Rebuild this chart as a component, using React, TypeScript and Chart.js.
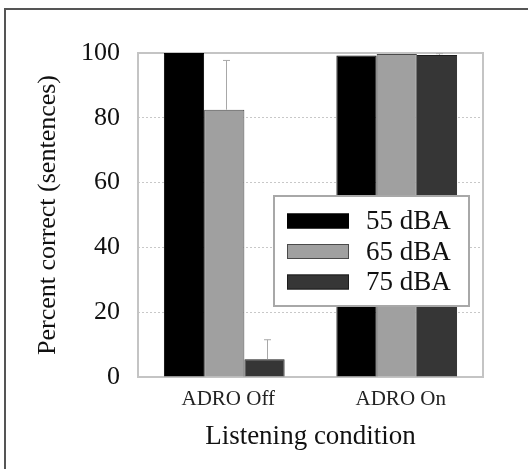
import React, { useEffect, useRef } from 'react';
import { Chart, registerables } from 'chart.js';

Chart.register(...registerables);

const categories = ['ADRO Off', 'ADRO On'];
const seriesLabels = ['55 dBA', '65 dBA', '75 dBA'];
const values55 = [100, 99.2];
const values65 = [82.5, 99.7];
const values75 = [5.5, 99.4];
const errors55 = [0, 0];
const errors65 = [15.2, 0];
const errors75 = [6.0, 0.4];
const yMin = 0;
const yMax = 100;
const yStep = 20;
const xTitle = 'Listening condition';
const yTitle = 'Percent correct (sentences)';

const fillColors = ['#000000', '#a0a0a0', '#363636'];
const edgeColors = ['#000000', '#4a4a4a', '#1c1c1c'];
const FONT = "'Liberation Serif', 'Times New Roman', serif";

const errorBarPlugin = {
  id: 'errorBars',
  afterDatasetsDraw(chart: any) {
    const ctx = chart.ctx;
    const yScale = chart.scales.y;
    const errs = [errors55, errors65, errors75];
    ctx.save();
    ctx.strokeStyle = '#a8a8a8';
    ctx.lineWidth = 1;
    chart.data.datasets.forEach((ds: any, i: number) => {
      const meta = chart.getDatasetMeta(i);
      meta.data.forEach((el: any, j: number) => {
        const e = errs[i][j];
        if (!e) return;
        const v = ds.data[j];
        const yTop = yScale.getPixelForValue(v + e);
        const x = Math.round(el.x) + 2.5;
        ctx.beginPath();
        ctx.moveTo(x, el.y);
        ctx.lineTo(x, yTop);
        ctx.moveTo(x - 3.5, yTop);
        ctx.lineTo(x + 3.5, yTop);
        ctx.stroke();
      });
    });
    ctx.restore();
  },
};

const frameBoxPlugin = {
  id: 'frameBox',
  beforeDatasetsDraw(chart: any) {
    const { ctx, chartArea } = chart;
    ctx.save();
    ctx.strokeStyle = '#c4c4c4';
    ctx.lineWidth = 2;
    ctx.strokeRect(chartArea.left, chartArea.top, chartArea.right - chartArea.left, chartArea.bottom - chartArea.top);
    ctx.restore();
  },
};

const boxLegendPlugin = {
  id: 'boxLegend',
  afterDraw(chart: any) {
    const { ctx, chartArea } = chart;
    const bx = chartArea.right - 209;
    const by = chartArea.top + 143;
    const bw = 195;
    const bh = 110;
    ctx.save();
    ctx.fillStyle = '#ffffff';
    ctx.fillRect(bx, by, bw, bh);
    ctx.strokeStyle = '#a8a8a8';
    ctx.lineWidth = 2;
    ctx.strokeRect(bx, by, bw, bh);
    chart.data.datasets.forEach((ds: any, i: number) => {
      const cy = by + 25 + i * 30.5;
      ctx.fillStyle = ds.backgroundColor;
      ctx.fillRect(bx + 13, cy - 7.5, 62, 15);
      ctx.strokeStyle = ds.borderColor;
      ctx.lineWidth = 1;
      ctx.strokeRect(bx + 13.5, cy - 7, 61, 14);
      ctx.fillStyle = '#111111';
      ctx.font = `27px ${FONT}`;
      ctx.textBaseline = 'middle';
      ctx.textAlign = 'left';
      ctx.fillText(ds.label, bx + 92, cy + 1);
    });
    ctx.restore();
  },
};

export default function App() {
  const canvasRef = useRef<HTMLCanvasElement | null>(null);

  useEffect(() => {
    const canvas = canvasRef.current;
    if (!canvas) return;
    const seriesValues = [values55, values65, values75];
    const chart = new Chart(canvas, {
      type: 'bar',
      data: {
        labels: categories,
        datasets: seriesLabels.map((label, i) => ({
          label,
          data: seriesValues[i],
          backgroundColor: fillColors[i],
          borderColor: edgeColors[i],
          borderWidth: 1,
          categoryPercentage: 0.7,
          barPercentage: 1.0,
        })),
      },
      options: {
        responsive: false,
        animation: false,
        devicePixelRatio: 1,
        layout: { padding: { left: 0, top: 53, right: 45, bottom: 0 } },
        plugins: {
          legend: { display: false },
          tooltip: { enabled: false },
        },
        scales: {
          x: {
            grid: { display: false, drawTicks: false },
            border: { display: false },
            ticks: {
              color: '#222222',
              font: { family: FONT, size: 21 },
              padding: 10,
              labelOffset: 4,
            },
            title: {
              display: true,
              text: xTitle,
              color: '#111111',
              font: { family: FONT, size: 27 },
              padding: { top: 0, bottom: 16 },
            },
            afterFit(scale: any) {
              scale.height = 92;
            },
          },
          y: {
            min: yMin,
            max: yMax,
            grid: {
              drawTicks: false,
              color: (c: any) =>
                c.tick && (c.tick.value === yMin || c.tick.value === yMax) ? 'rgba(0,0,0,0)' : '#c8c8c8',
              lineWidth: 1,
            },
            border: { display: false, dash: [2, 2] },
            ticks: {
              stepSize: yStep,
              color: '#111111',
              font: { family: FONT, size: 26 },
              padding: 18,
            },
            title: {
              display: true,
              text: yTitle,
              color: '#111111',
              font: { family: FONT, size: 26 },
              padding: { top: 33, bottom: 0 },
            },
            afterFit(scale: any) {
              scale.width = 138;
            },
          },
        },
      },
      plugins: [frameBoxPlugin, errorBarPlugin, boxLegendPlugin],
    });
    return () => chart.destroy();
  }, []);

  return (
    <div style={{ position: 'fixed', left: 0, top: 0, width: 528, height: 469, overflow: 'hidden', background: '#ffffff' }}>
      <div
        style={{
          position: 'absolute',
          left: 4,
          top: 8,
          width: 700,
          height: 700,
          borderTop: '2px solid #555555',
          borderLeft: '2px solid #555555',
        }}
      />
      <canvas ref={canvasRef} width={528} height={469} style={{ position: 'absolute', left: 0, top: 0, width: 528, height: 469 }} />
    </div>
  );
}
